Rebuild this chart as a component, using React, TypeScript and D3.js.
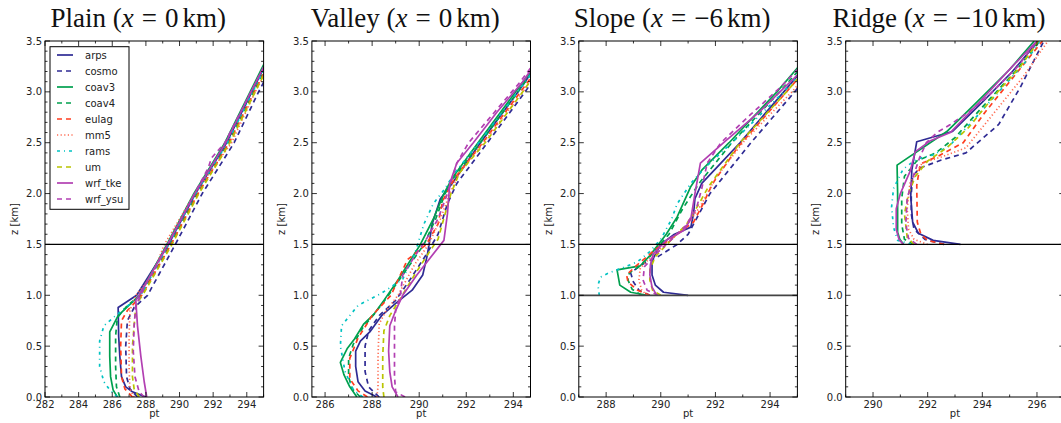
import React from "react";
import * as d3 from "d3";

type Pt = [number, number]; // [potential temperature (K), height (km)]

const MODELS = ["arps", "cosmo", "coav3", "coav4", "eulag", "mm5", "rams", "um", "wrf_tke", "wrf_ysu"];
const COLORS = ["#2f2b94", "#2f2b94", "#00a04e", "#00a04e", "#ff3d1f", "#ff6a50", "#00c2c2", "#b9c400", "#b23fb2", "#b23fb2"];
const DASHES: (string | null)[] = [null, "5,4", null, "5,4", "5,4", "1.2,2.4", "3,4,1,4", "5,4", null, "5,4"];

const TITLES = [
  { name: "Plain", x: "0" },
  { name: "Valley", x: "0" },
  { name: "Slope", x: "\u22126" },
  { name: "Ridge", x: "\u221210" },
];
const X_DOMAINS: [number, number][] = [[282, 295], [285.44, 294.73], [287, 295], [289, 297]];
const X_TICKS = [
  [282, 284, 286, 288, 290, 292, 294],
  [286, 288, 290, 292, 294],
  [288, 290, 292, 294],
  [290, 292, 294, 296],
];
const Y_TICKS = [0, 0.5, 1.0, 1.5, 2.0, 2.5, 3.0, 3.5];
const H_LINES = [[1.5], [1.5], [1.0, 1.5], [1.5]];

const PLAIN: Pt[][] = [
  [[288.0, 0], [287.2, 0.05], [286.8, 0.1], [286.55, 0.2], [286.45, 0.4], [286.38, 0.6], [286.35, 0.88], [287.45, 1.0], [289.35, 1.5], [290.95, 2.0], [292.8, 2.5], [294.3, 3.0], [295.8, 3.5]],
  [[287.5, 0], [287.05, 0.08], [286.85, 0.2], [286.8, 0.5], [286.9, 0.75], [287.3, 0.88], [288.1, 1.0], [289.75, 1.5], [291.35, 2.0], [293.25, 2.5], [294.7, 3.0], [296.3, 3.5]],
  [[286.3, 0], [286.05, 0.07], [285.9, 0.2], [285.85, 0.4], [285.85, 0.64], [286.35, 0.8], [287.3, 0.95], [287.6, 1.0], [289.25, 1.5], [290.85, 2.0], [292.7, 2.5], [294.2, 3.0], [295.7, 3.5]],
  [[286.45, 0], [286.25, 0.1], [286.2, 0.3], [286.2, 0.6], [286.3, 0.78], [286.9, 0.9], [287.7, 1.0], [289.45, 1.5], [291.05, 2.0], [292.9, 2.5], [294.4, 3.0], [295.95, 3.5]],
  [[287.2, 0], [286.75, 0.08], [286.55, 0.2], [286.5, 0.5], [286.55, 0.75], [286.9, 0.85], [287.75, 1.0], [289.5, 1.5], [291.1, 2.0], [292.95, 2.5], [294.45, 3.0], [296.0, 3.5]],
  [[287.3, 0], [287.05, 0.08], [287.0, 0.3], [287.0, 0.6], [287.05, 0.85], [287.4, 1.0], [288.4, 1.2], [289.1, 1.5], [290.9, 2.0], [293.1, 2.5], [294.5, 3.0], [296.1, 3.5]],
  [[286.3, 0], [285.85, 0.07], [285.5, 0.15], [285.25, 0.3], [285.25, 0.55], [285.5, 0.7], [286.2, 0.8], [287.1, 0.92], [287.7, 1.0], [289.35, 1.5], [290.95, 2.0], [292.85, 2.5], [294.35, 3.0], [295.9, 3.5]],
  [[287.6, 0], [287.3, 0.08], [287.2, 0.2], [287.2, 0.5], [287.35, 0.8], [287.45, 0.92], [287.8, 1.0], [289.55, 1.5], [291.15, 2.0], [293.0, 2.5], [294.5, 3.0], [296.05, 3.5]],
  [[288.05, 0], [287.9, 0.15], [287.7, 0.4], [287.5, 0.7], [287.4, 0.95], [287.6, 1.0], [289.3, 1.5], [290.9, 2.0], [292.75, 2.5], [294.25, 3.0], [295.8, 3.5]],
  [[287.9, 0], [287.6, 0.05], [287.35, 0.2], [287.25, 0.45], [287.3, 0.7], [287.4, 0.9], [287.7, 1.0], [288.1, 1.15], [288.4, 1.22], [289.3, 1.5], [290.9, 2.0], [291.7, 2.25], [291.9, 2.35], [292.7, 2.5], [294.25, 3.0], [295.8, 3.5]],
];

const VALLEY: Pt[][] = [
  [[288.2, 0], [287.7, 0.06], [287.4, 0.15], [287.3, 0.3], [287.3, 0.45], [287.5, 0.55], [287.9, 0.64], [288.4, 0.8], [289.0, 0.92], [289.7, 1.05], [290.15, 1.2], [290.35, 1.4], [290.55, 1.7], [290.9, 1.95], [291.4, 2.1], [292.6, 2.5], [294.2, 3.0], [295.7, 3.5]],
  [[288.3, 0], [287.85, 0.1], [287.7, 0.25], [287.7, 0.5], [287.85, 0.65], [288.3, 0.8], [289.0, 0.95], [289.6, 1.15], [290.3, 1.4], [290.8, 1.6], [291.2, 1.9], [291.6, 2.1], [292.9, 2.5], [294.5, 3.0], [296.0, 3.5]],
  [[287.35, 0], [287.05, 0.1], [286.8, 0.22], [286.65, 0.34], [286.95, 0.48], [287.25, 0.57], [287.65, 0.72], [288.1, 0.82], [288.5, 0.95], [289.1, 1.15], [290.05, 1.5], [290.6, 1.75], [291.05, 2.0], [291.4, 2.15], [292.5, 2.5], [294.1, 3.0], [295.7, 3.5]],
  [[287.5, 0], [287.15, 0.08], [287.0, 0.2], [287.0, 0.38], [287.2, 0.52], [287.6, 0.68], [288.1, 0.82], [288.6, 0.97], [289.3, 1.2], [290.2, 1.5], [290.7, 1.75], [291.1, 2.0], [291.45, 2.15], [292.6, 2.5], [294.2, 3.0], [295.75, 3.5]],
  [[287.8, 0], [287.4, 0.06], [287.05, 0.18], [287.05, 0.38], [287.4, 0.58], [288.0, 0.8], [288.8, 1.0], [289.5, 1.35], [290.3, 1.5], [290.8, 1.7], [291.0, 1.93], [291.5, 2.15], [292.7, 2.5], [294.3, 3.0], [295.9, 3.5]],
  [[288.2, 0], [288.25, 0.1], [288.25, 0.4], [288.3, 0.72], [288.6, 0.85], [289.1, 1.0], [289.8, 1.3], [290.4, 1.5], [290.9, 1.75], [291.3, 2.0], [291.7, 2.2], [292.9, 2.55], [294.4, 3.0], [296.0, 3.5]],
  [[287.6, 0], [287.2, 0.07], [286.85, 0.25], [286.65, 0.5], [286.7, 0.7], [287.4, 0.9], [288.4, 1.02], [289.3, 1.16], [289.8, 1.4], [290.2, 1.7], [290.6, 1.9], [291.1, 2.05], [291.5, 2.2], [292.7, 2.55], [294.35, 3.05], [295.8, 3.5]],
  [[288.5, 0], [288.45, 0.1], [288.45, 0.4], [288.5, 0.65], [288.75, 0.8], [289.2, 0.97], [289.8, 1.2], [290.5, 1.45], [290.8, 1.55], [291.1, 1.8], [291.35, 2.0], [291.7, 2.2], [292.8, 2.5], [294.4, 3.0], [295.9, 3.5]],
  [[289.1, 0], [288.85, 0.1], [288.75, 0.25], [288.7, 0.45], [288.75, 0.7], [289.0, 0.85], [289.3, 1.0], [289.9, 1.2], [291.05, 1.54], [291.2, 1.8], [291.3, 2.1], [291.6, 2.3], [292.3, 2.5], [293.3, 2.8], [294.4, 3.1], [295.6, 3.5]],
  [[289.4, 0], [289.0, 0.05], [288.95, 0.2], [288.95, 0.5], [288.95, 0.7], [289.0, 0.85], [289.2, 1.0], [289.3, 1.2], [289.8, 1.38], [290.3, 1.55], [290.8, 1.75], [291.2, 2.0], [291.6, 2.3], [292.1, 2.5], [293.2, 2.8], [294.3, 3.1], [295.6, 3.5]],
];

const SLOPE: Pt[][] = [
  [[291.0, 1.0], [290.1, 1.03], [289.8, 1.1], [289.68, 1.2], [289.68, 1.34], [290.0, 1.5], [290.5, 1.6], [291.1, 1.67], [291.2, 1.8], [291.25, 1.95], [291.5, 2.1], [292.2, 2.3], [292.9, 2.5], [294.5, 3.0], [296.1, 3.5]],
  [[289.6, 1.0], [289.2, 1.05], [289.0, 1.13], [288.9, 1.22], [289.3, 1.3], [289.9, 1.38], [290.6, 1.5], [291.0, 1.6], [291.4, 1.8], [291.8, 2.0], [292.4, 2.2], [293.3, 2.5], [294.9, 3.0], [296.4, 3.5]],
  [[289.5, 1.0], [288.9, 1.03], [288.5, 1.1], [288.4, 1.25], [289.25, 1.29], [289.6, 1.39], [290.2, 1.6], [290.6, 1.77], [291.1, 2.07], [291.5, 2.23], [292.5, 2.5], [294.25, 3.0], [295.85, 3.5]],
  [[289.3, 1.0], [288.95, 1.06], [288.8, 1.15], [288.85, 1.22], [289.2, 1.28], [289.6, 1.38], [290.3, 1.6], [290.8, 1.85], [291.4, 2.1], [292.6, 2.5], [294.35, 3.0], [296.0, 3.5]],
  [[289.6, 1.0], [289.15, 1.05], [288.8, 1.13], [288.75, 1.2], [289.1, 1.29], [289.8, 1.45], [290.6, 1.6], [291.2, 1.72], [291.55, 1.9], [291.9, 2.1], [292.8, 2.45], [294.6, 3.0], [296.2, 3.5]],
  [[289.5, 1.0], [289.3, 1.05], [289.2, 1.15], [289.25, 1.27], [289.65, 1.38], [290.4, 1.55], [291.0, 1.7], [291.5, 1.9], [292.0, 2.15], [293.0, 2.5], [294.8, 3.0], [296.4, 3.5]],
  [[287.75, 1.0], [287.7, 1.1], [287.8, 1.18], [288.1, 1.22], [288.7, 1.28], [289.15, 1.33], [289.6, 1.43], [290.0, 1.55], [290.4, 1.75], [290.6, 1.9], [291.1, 2.1], [291.6, 2.25], [292.6, 2.5], [294.5, 3.0], [296.1, 3.5]],
  [[290.0, 1.0], [289.7, 1.05], [289.6, 1.15], [289.6, 1.25], [289.8, 1.38], [290.4, 1.55], [290.95, 1.7], [291.4, 1.9], [291.75, 2.07], [292.1, 2.2], [292.9, 2.5], [294.6, 3.0], [296.2, 3.5]],
  [[289.85, 1.0], [289.68, 1.08], [289.6, 1.2], [289.62, 1.3], [289.73, 1.41], [290.2, 1.54], [290.85, 1.64], [291.1, 1.75], [291.25, 2.0], [291.45, 2.3], [292.3, 2.5], [293.6, 2.8], [294.55, 3.05], [296.3, 3.5]],
  [[289.9, 1.0], [289.5, 1.05], [289.35, 1.15], [289.4, 1.28], [289.8, 1.4], [290.4, 1.55], [290.9, 1.68], [291.3, 1.85], [291.5, 2.05], [291.7, 2.3], [292.2, 2.5], [293.3, 2.78], [294.4, 3.05], [296.0, 3.5]],
];

const RIDGE: Pt[][] = [
  [[293.2, 1.5], [292.2, 1.54], [291.66, 1.61], [291.45, 1.72], [291.38, 1.97], [291.42, 2.23], [291.6, 2.51], [292.9, 2.61], [294.0, 2.9], [295.1, 3.2], [296.05, 3.5]],
  [[292.6, 1.5], [291.9, 1.55], [291.5, 1.65], [291.4, 1.8], [291.4, 2.0], [291.45, 2.17], [291.7, 2.25], [292.5, 2.33], [293.4, 2.4], [294.6, 2.68], [295.4, 3.05], [296.25, 3.5]],
  [[291.12, 1.5], [290.98, 1.55], [290.9, 1.62], [290.9, 2.0], [290.88, 2.28], [292.7, 2.61], [293.8, 2.9], [295.0, 3.22], [295.9, 3.5]],
  [[291.5, 1.5], [291.15, 1.55], [291.05, 1.7], [291.05, 1.95], [291.15, 2.17], [291.6, 2.32], [292.3, 2.4], [293.0, 2.55], [294.0, 2.85], [295.2, 3.2], [296.1, 3.5]],
  [[292.6, 1.5], [292.0, 1.54], [291.75, 1.6], [291.62, 1.72], [291.6, 2.08], [291.73, 2.29], [292.4, 2.37], [293.3, 2.5], [294.1, 2.8], [295.3, 3.2], [296.2, 3.5]],
  [[292.0, 1.5], [291.5, 1.55], [291.3, 1.65], [291.25, 1.85], [291.35, 2.1], [291.8, 2.3], [292.5, 2.36], [293.4, 2.45], [294.3, 2.75], [295.5, 3.15], [296.4, 3.5]],
  [[291.4, 1.5], [290.9, 1.54], [290.75, 1.67], [290.68, 1.87], [290.75, 2.05], [291.1, 2.24], [291.6, 2.34], [292.2, 2.38], [292.8, 2.47], [293.6, 2.7], [294.6, 3.0], [295.6, 3.3], [296.1, 3.5]],
  [[291.5, 1.5], [291.25, 1.57], [291.15, 1.8], [291.3, 2.0], [291.55, 2.17], [292.0, 2.32], [292.7, 2.45], [293.5, 2.65], [294.4, 2.95], [295.4, 3.25], [296.05, 3.5]],
  [[291.11, 1.5], [290.95, 1.55], [290.85, 1.65], [290.85, 1.85], [291.0, 2.0], [291.36, 2.22], [291.54, 2.41], [292.1, 2.52], [292.83, 2.6], [293.9, 2.9], [295.1, 3.25], [296.0, 3.5]],
  [[291.6, 1.5], [291.3, 1.56], [291.2, 1.7], [291.25, 1.95], [291.45, 2.15], [291.7, 2.35], [291.95, 2.5], [292.34, 2.6], [292.83, 2.68], [293.5, 2.8], [294.3, 2.98], [295.3, 3.25], [296.0, 3.5]],
];

const PANELS = [PLAIN, VALLEY, SLOPE, RIDGE];

const W = 1061;
const H = 423;
const PLOT_TOP = 41;
const PLOT_BOTTOM = 397;
const PANEL_LEFT0 = 45;
const PANEL_STEP = 266.9;
const PANEL_W = 218.6;
const SANS = "'DejaVu Sans', sans-serif";
const SERIF = "'Liberation Serif', 'Times New Roman', serif";

function Panel({ idx }: { idx: number }) {
  const left = PANEL_LEFT0 + idx * PANEL_STEP;
  const right = left + PANEL_W;
  const x = d3.scaleLinear().domain(X_DOMAINS[idx]).range([left, right]);
  const y = d3.scaleLinear().domain([0, 3.5]).range([PLOT_BOTTOM, PLOT_TOP]);
  const line = d3
    .line<Pt>()
    .x((d) => x(d[0]))
    .y((d) => y(d[1]));
  const [x0, x1] = X_DOMAINS[idx];
  const xMinor = d3.range(Math.ceil(x0), Math.floor(x1) + 1e-9, 1).filter((v) => v % 2 !== 0);
  const yMinor = d3.range(0, 3.5001, 0.1).filter((v) => Math.abs(v * 2 - Math.round(v * 2)) > 1e-6);
  const clipId = `clip${idx}`;
  const t = TITLES[idx];
  const cx = (left + right) / 2 - 16;
  const major = 5;
  const minor = 2.5;
  return (
    <g>
      <defs>
        <clipPath id={clipId}>
          <rect x={left} y={PLOT_TOP} width={PANEL_W} height={PLOT_BOTTOM - PLOT_TOP} />
        </clipPath>
      </defs>
      <rect x={left} y={PLOT_TOP} width={PANEL_W} height={PLOT_BOTTOM - PLOT_TOP} fill="#fff" />
      <g clipPath={`url(#${clipId})`}>
        {PANELS[idx].map((pts, i) => (
          <path
            key={MODELS[i]}
            d={line(pts) || ""}
            fill="none"
            stroke={COLORS[i]}
            strokeWidth={1.7}
            strokeDasharray={DASHES[i] || undefined}
            strokeLinejoin="round"
          />
        ))}
        {H_LINES[idx].map((h) => (
          <line
            key={h}
            x1={left}
            x2={right}
            y1={y(h)}
            y2={y(h)}
            stroke={h === 1.0 ? "#444" : "#000"}
            strokeWidth={h === 1.0 ? 1.8 : 1.2}
          />
        ))}
      </g>
      {X_TICKS[idx].map((v) => (
        <g key={`xt${v}`}>
          <line x1={x(v)} x2={x(v)} y1={PLOT_BOTTOM} y2={PLOT_BOTTOM - major} stroke="#000" strokeWidth={0.8} />
          <line x1={x(v)} x2={x(v)} y1={PLOT_TOP} y2={PLOT_TOP + major} stroke="#000" strokeWidth={0.8} />
          <text x={x(v)} y={408} textAnchor="middle" fontFamily={SANS} fontSize={10} fill="#222">
            {v}
          </text>
        </g>
      ))}
      {xMinor.map((v) => (
        <g key={`xm${v}`}>
          <line x1={x(v)} x2={x(v)} y1={PLOT_BOTTOM} y2={PLOT_BOTTOM - minor} stroke="#000" strokeWidth={0.8} />
          <line x1={x(v)} x2={x(v)} y1={PLOT_TOP} y2={PLOT_TOP + minor} stroke="#000" strokeWidth={0.8} />
        </g>
      ))}
      {Y_TICKS.map((v) => (
        <g key={`yt${v}`}>
          <line x1={left} x2={left + major} y1={y(v)} y2={y(v)} stroke="#000" strokeWidth={0.8} />
          <line x1={right} x2={right - major} y1={y(v)} y2={y(v)} stroke="#000" strokeWidth={0.8} />
          <text x={left - 3} y={y(v) + 3.6} textAnchor="end" fontFamily={SANS} fontSize={10} fill="#222">
            {v.toFixed(1)}
          </text>
        </g>
      ))}
      {yMinor.map((v) => (
        <g key={`ym${v.toFixed(1)}`}>
          <line x1={left} x2={left + minor} y1={y(v)} y2={y(v)} stroke="#000" strokeWidth={0.8} />
          <line x1={right} x2={right - minor} y1={y(v)} y2={y(v)} stroke="#000" strokeWidth={0.8} />
        </g>
      ))}
      <rect x={left} y={PLOT_TOP} width={PANEL_W} height={PLOT_BOTTOM - PLOT_TOP} fill="none" stroke="#000" strokeWidth={1} />
      <text
        x={left - 27}
        y={(PLOT_TOP + PLOT_BOTTOM) / 2}
        transform={`rotate(-90 ${left - 27} ${(PLOT_TOP + PLOT_BOTTOM) / 2})`}
        textAnchor="middle"
        fontFamily={SANS}
        fontSize={10}
        fill="#222"
      >
        z [km]
      </text>
      <text x={(left + right) / 2} y={417} textAnchor="middle" fontFamily={SANS} fontSize={10} fill="#222">
        pt
      </text>
      <text x={cx} y={27} textAnchor="middle" fontFamily={SERIF} fontSize={27} fill="#111">
        <tspan>{t.name + " ("}</tspan>
        <tspan fontStyle="italic">x</tspan>
        <tspan dx={8}>=</tspan>
        <tspan dx={8}>{t.x}</tspan>
        <tspan dx={4}>{"km)"}</tspan>
      </text>
    </g>
  );
}

function Legend() {
  const bx = 50;
  const by = 46.7;
  const bw = 79;
  const bh = 162.6;
  return (
    <g>
      <rect x={bx} y={by} width={bw} height={bh} fill="#fff" stroke="#000" strokeWidth={1} />
      {MODELS.map((m, i) => {
        const yy = 55 + i * 16;
        return (
          <g key={m}>
            <line
              x1={57}
              x2={73}
              y1={yy}
              y2={yy}
              stroke={COLORS[i]}
              strokeWidth={1.7}
              strokeDasharray={DASHES[i] || undefined}
            />
            <text x={85} y={yy + 3.6} fontFamily={SANS} fontSize={10} fill="#222">
              {m}
            </text>
          </g>
        );
      })}
    </g>
  );
}

export default function App() {
  return (
    <svg
      width={W}
      height={H}
      viewBox={`0 0 ${W} ${H}`}
      style={{ position: "absolute", left: 0, top: 0, background: "#fff" }}
    >
      <rect x={0} y={0} width={W} height={H} fill="#fff" />
      {[0, 1, 2, 3].map((i) => (
        <Panel key={i} idx={i} />
      ))}
      <Legend />
    </svg>
  );
}
